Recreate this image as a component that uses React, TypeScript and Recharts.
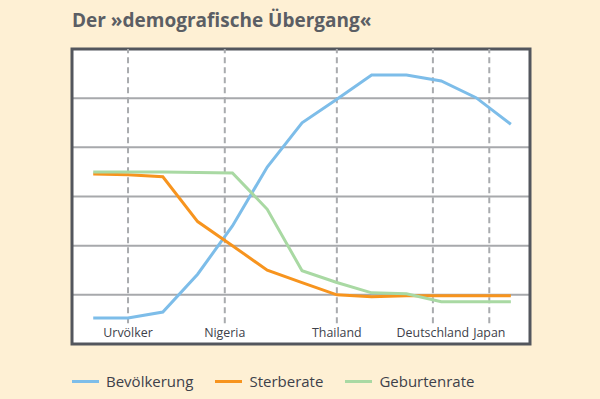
import React from "react";
import {
  LineChart,
  Line,
  XAxis,
  YAxis,
  CartesianGrid,
  ReferenceLine,
  ReferenceArea,
} from "recharts";

// x positions (0..12) of the sampled points
const steps = [0, 1, 2, 3, 4, 5, 6, 7, 8, 9, 10, 11, 12];
const bevoelkerung = [0.53, 0.53, 0.65, 1.42, 2.4, 3.6, 4.5, 4.98, 5.47, 5.47, 5.35, 5.01, 4.47];
const sterberate = [3.46, 3.44, 3.4, 2.49, 2.0, 1.5, 1.25, 1.0, 0.96, 0.98, 0.98, 0.98, 0.98];
const geburtenrate = [3.5, 3.5, 3.5, 3.49, 3.48, 2.74, 1.49, 1.25, 1.04, 1.02, 0.86, 0.86, 0.86];

const tickPositions = [1, 3.78, 7, 9.76, 11.38];
const tickLabels = ["Urvölker", "Nigeria", "Thailand", "Deutschland", "Japan"];
const yTicks = [0, 1, 2, 3, 4, 5, 6];

const seriesNames = ["Bevölkerung", "Sterberate", "Geburtenrate"];
const seriesKeys = ["bev", "ster", "geb"];
const seriesColors = ["#7dbde9", "#f7941e", "#a9d9a3"];

const data = steps.map((x, i) => ({
  x,
  bev: bevoelkerung[i],
  ster: sterberate[i],
  geb: geburtenrate[i],
}));

const X_MIN = -0.61;
const X_MAX = 12.55;
const FONT = "'Open Sans', 'Noto Sans', sans-serif";

const CategoryTick = (props: any) => {
  const { x, y, payload } = props;
  const idx = tickPositions.indexOf(payload.value);
  return (
    <text
      x={x}
      y={y - 7}
      textAnchor="middle"
      fontFamily={FONT}
      fontSize={12.4}
      fill="#3d414a"
    >
      {tickLabels[idx]}
    </text>
  );
};

export default function App() {
  return (
    <div
      style={{
        position: "absolute",
        left: 0,
        top: 0,
        width: 600,
        height: 399,
        background: "#fef0d4",
        overflow: "hidden",
      }}
    >
      <div
        style={{
          position: "absolute",
          left: 72,
          top: 10,
          fontFamily: FONT,
          fontWeight: 700,
          fontSize: 19,
          lineHeight: "20px",
          color: "#5b5e64",
          whiteSpace: "nowrap",
        }}
      >
        Der »demografische Übergang«
      </div>
      <div style={{ position: "absolute", left: 0, top: 0 }}>
        <LineChart
          width={600}
          height={399}
          data={data}
          margin={{ top: 49, right: 70, bottom: 54, left: 72 }}
        >
          <CartesianGrid
            horizontal={true}
            vertical={false}
            stroke="#a7a9ac"
            strokeWidth={2}
            fill="#ffffff"
            fillOpacity={1}
          />
          <XAxis
            dataKey="x"
            type="number"
            domain={[X_MIN, X_MAX]}
            ticks={tickPositions}
            allowDataOverflow
            axisLine={false}
            tickLine={false}
            tickSize={0}
            tickMargin={0}
            height={1}
            interval={0}
            tick={<CategoryTick />}
          />
          <YAxis hide domain={[0, 6]} ticks={yTicks} type="number" />
          {tickPositions.map((p) => (
            <ReferenceLine
              key={p}
              segment={[
                { x: p, y: 0.42 },
                { x: p, y: 6 },
              ]}
              stroke="#a9abae"
              strokeWidth={2}
              strokeDasharray="6 4"
            />
          ))}
          {seriesKeys.map((k, i) => (
            <Line
              key={k}
              type="linear"
              dataKey={k}
              stroke={seriesColors[i]}
              strokeWidth={3}
              dot={false}
              activeDot={false}
              isAnimationActive={false}
            />
          ))}
          <ReferenceArea
            x1={X_MIN}
            x2={X_MAX}
            y1={0}
            y2={6}
            fill="none"
            stroke="#53565d"
            strokeWidth={3}
            ifOverflow="visible"
          />
        </LineChart>
      </div>
      <div
        style={{
          position: "absolute",
          left: 72,
          top: 371,
          display: "flex",
          alignItems: "center",
          fontFamily: FONT,
          fontSize: 15,
          color: "#3d414a",
          height: 20,
        }}
      >
        {seriesNames.map((n, i) => (
          <div
            key={n}
            style={{ display: "flex", alignItems: "center", marginRight: 22 }}
          >
            <div
              style={{
                width: 27,
                height: 3,
                background: seriesColors[i],
                marginRight: 7,
              }}
            />
            <span>{n}</span>
          </div>
        ))}
      </div>
    </div>
  );
}
